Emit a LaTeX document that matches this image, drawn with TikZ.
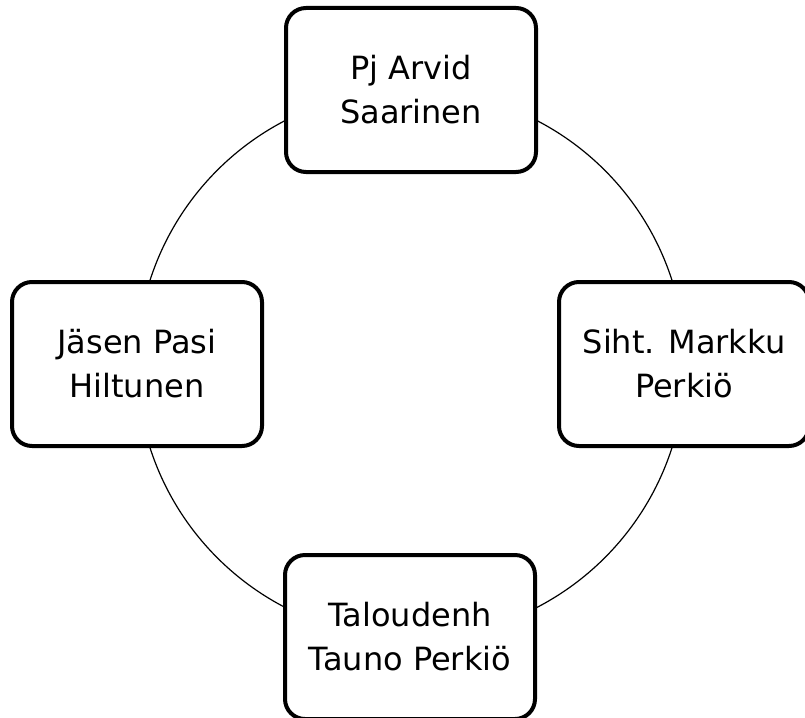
\documentclass[tikz,border=0pt]{standalone}
\usepackage{fontspec}
\setmainfont{DejaVu Sans}
\usetikzlibrary{positioning}

\tikzset{
  member/.style={draw, line width=3pt, rounded corners=15pt, fill=white,
    minimum width=187.5pt, minimum height=123pt, align=center,
    font=\fontsize{24}{33}\selectfont, inner sep=0pt},
}

\begin{document}
\begin{tikzpicture}[x=0.75pt,y=0.75pt,yscale=-1,xscale=1]
\useasboundingbox (0,0) rectangle (805,717);

%Circle
\coordinate (hub) at (411,364);
\draw [line width=0.9pt] (hub) circle [radius=205.5pt];

% Text Node
\node [member] (pj) at (411,90) {Pj Arvid\\Saarinen};
% Text Node
\node [member] (jasen) at (137,364) {Jäsen Pasi\\Hiltunen};
% Text Node
\node [member] (siht) at (684,364) {Siht. Markku\\Perkiö};
% Text Node
\node [member] (talous) at (410,637) {Taloudenh\\Tauno Perkiö};

\end{tikzpicture}
\end{document}
